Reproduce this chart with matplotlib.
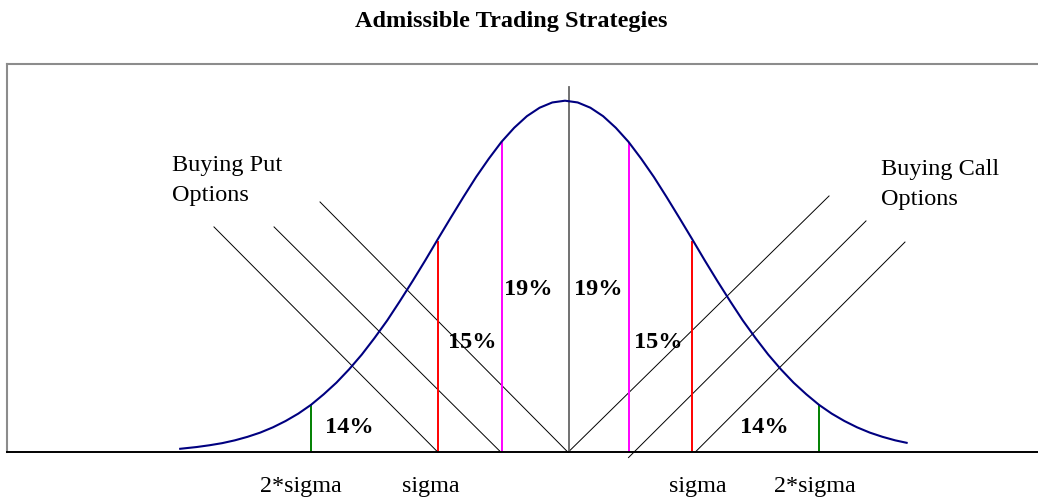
import matplotlib
matplotlib.use("Agg")
import matplotlib.pyplot as plt

# bell curve (x in sigma units, height relative to the peak)
curve_x = [-3.03, -2.9, -2.8, -2.7, -2.6, -2.5, -2.4, -2.3, -2.2, -2.1, -2.0,
           -1.9, -1.8, -1.7, -1.6, -1.5, -1.4, -1.3, -1.2, -1.1, -1.0,
           -0.9, -0.8, -0.7, -0.6, -0.5, -0.4, -0.3, -0.2, -0.1, 0.0,
           0.1, 0.2, 0.3, 0.4, 0.5, 0.6, 0.7, 0.8, 0.9, 1.0,
           1.1, 1.2, 1.3, 1.4, 1.5, 1.6, 1.7, 1.8, 1.9, 2.0,
           2.1, 2.2, 2.3, 2.4, 2.5, 2.6, 2.69]
curve_y = [0.010, 0.015, 0.020, 0.026, 0.034, 0.044, 0.056, 0.071, 0.089, 0.110, 0.135,
           0.165, 0.198, 0.236, 0.278, 0.325, 0.375, 0.430, 0.487, 0.546, 0.607,
           0.667, 0.726, 0.783, 0.835, 0.883, 0.923, 0.956, 0.980, 0.995, 1.000,
           0.995, 0.980, 0.956, 0.923, 0.883, 0.835, 0.783, 0.726, 0.667, 0.607,
           0.546, 0.487, 0.430, 0.375, 0.325, 0.278, 0.236, 0.198, 0.165, 0.135,
           0.110, 0.089, 0.071, 0.056, 0.044, 0.034, 0.027]

# vertical markers under the curve
marker_x = [-2.0, -1.0, -0.5, 0.5, 1.0, 2.0]
marker_top = [0.134, 0.598, 0.880, 0.880, 0.598, 0.134]
marker_colors = ["green", "red", "magenta", "magenta", "red", "green"]

center_x = 0.028
center_top = 1.04

# diagonal strategy lines: (x0, y0, x1, y1)
put_lines = [(-2.764, 0.641, -1.0, 0.0),
             (-2.291, 0.641, -0.504, 0.0),
             (-1.929, 0.712, 0.024, 0.0)]
call_lines = [(0.024, 0.0, 2.079, 0.729),
              (0.500, -0.015, 2.370, 0.658),
              (1.024, 0.0, 2.677, 0.598)]

pct_labels = ["14%", "15%", "19%", "19%", "15%", "14%"]
tick_labels = ["2*sigma", "sigma", "sigma", "2*sigma"]

serif = "Liberation Serif"

fig = plt.figure(figsize=(10.38, 5.01), dpi=100)
W, H = 1038, 501
ax = fig.add_axes([7 / W, (H - 452.3) / H, (1045 - 7) / W, (452.3 - 64) / H])
ax.set_xlim((7 - 565) / 127, (1045 - 565) / 127)
ax.set_ylim(0, (452.3 - 64) / 351.6)
ax.set_xticks([])
ax.set_yticks([])
for side in ["left", "top", "right"]:
	ax.spines[side].set_color("#8c8c8c")
	ax.spines[side].set_linewidth(1.5)
ax.spines["bottom"].set_color("black")
ax.spines["bottom"].set_linewidth(1.4)
ax.spines["bottom"].set_zorder(5)

ax.plot(curve_x, curve_y, color="#000080", lw=1.5, zorder=4,
	solid_joinstyle="round")

for x, top, c in zip(marker_x, marker_top, marker_colors):
	ax.plot([x, x], [0, top], color=c, lw=1.4, zorder=3)
ax.plot([center_x, center_x], [0, center_top], color="#666666", lw=1.3, zorder=3)

for x0, y0, x1, y1 in put_lines + call_lines:
	ax.plot([x0, x1], [y0, y1], color="black", lw=0.7, clip_on=False, zorder=2)

# percentage labels
pct_pos = [(-1.890, 0.055), (-0.921, 0.297), (-0.480, 0.447),
           (0.071, 0.447), (0.543, 0.297), (1.378, 0.055)]
for (x, y), s in zip(pct_pos, pct_labels):
	ax.text(x, y, s, fontsize=17.5, fontweight="bold", family=serif,
		ha="left", va="baseline", zorder=6)

# sigma labels below the axis
tick_pos = [-2.079, -1.055, 1.047, 1.969]
for x, s in zip(tick_pos, tick_labels):
	ax.text(x, -0.113, s, fontsize=17.4, family=serif, ha="center",
		va="baseline", clip_on=False)

ax.text(-3.094, 0.800, "Buying Put", fontsize=17.5, family=serif, ha="left", va="baseline")
ax.text(-3.094, 0.715, "Options", fontsize=17.5, family=serif, ha="left", va="baseline")
ax.text(2.488, 0.789, "Buying Call", fontsize=17.5, family=serif, ha="left", va="baseline")
ax.text(2.488, 0.703, "Options", fontsize=17.5, family=serif, ha="left", va="baseline")

fig.text(511 / W, 1 - 27 / H, "Admissible Trading Strategies", fontsize=17.5,
	fontweight="bold", family=serif, ha="center", va="baseline")

fig.savefig("out.png", dpi=100)
